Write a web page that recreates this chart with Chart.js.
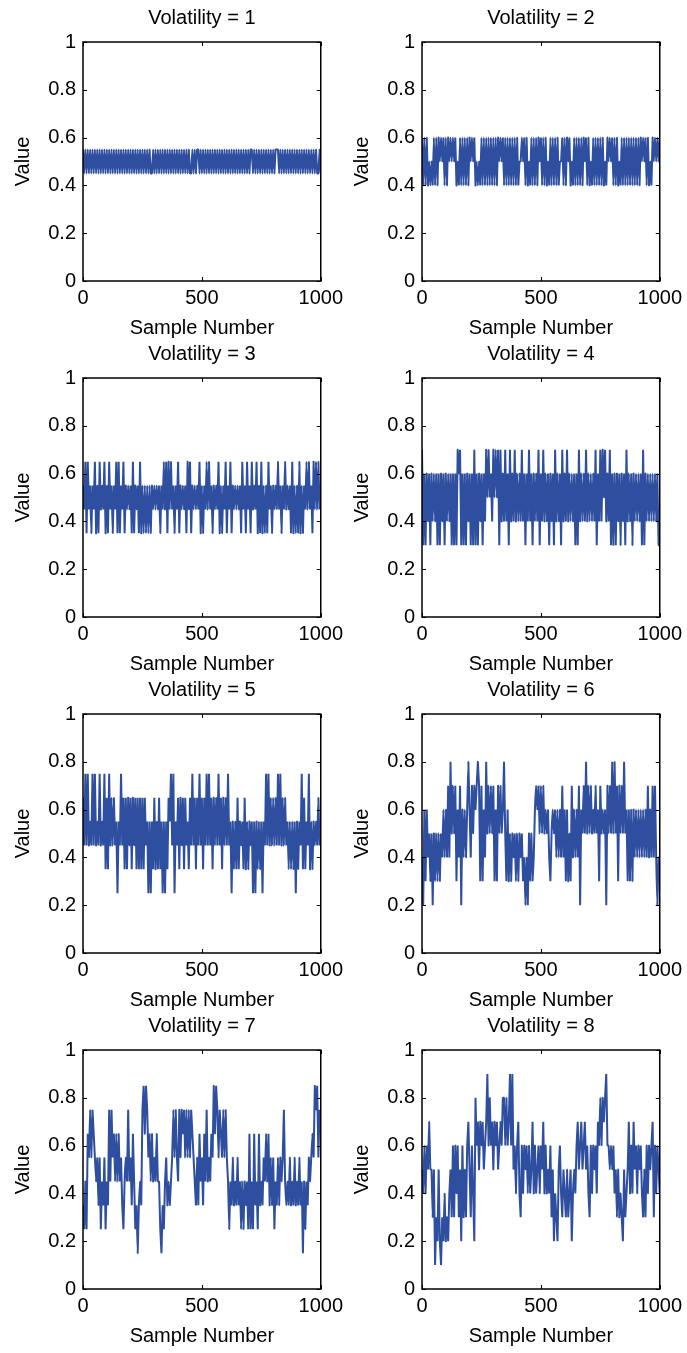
<!DOCTYPE html>
<html><head><meta charset="utf-8">
<script src="https://cdn.jsdelivr.net/npm/chart.js@4.4.1/dist/chart.umd.min.js"></script>
<style>
html,body{margin:0;padding:0;background:#fff;}
body{width:687px;height:1353px;position:relative;overflow:hidden;}
canvas{position:absolute;}
</style></head><body>
<script>
const volatilities = [1, 2, 3, 4, 5, 6, 7, 8];
const xTickValues = [0, 500, 1000];
const yTickValues = [0, 0.2, 0.4, 0.6, 0.8, 1];
const sampleCount = 1000;

const vol1 = [
.55,.45,.55,.45,.55,.45,.55,.45,.55,.45,
.55,.45,.55,.45,.55,.45,.55,.45,.55,.45,
.55,.45,.55,.45,.55,.45,.55,.45,.55,.45,
.55,.45,.55,.45,.55,.45,.55,.45,.55,.45,
.55,.45,.55,.45,.55,.45,.55,.45,.55,.45,
.55,.45,.55,.45,.55,.45,.55,.45,.45,.55,
.45,.55,.45,.55,.45,.55,.45,.55,.45,.55,
.45,.55,.45,.55,.45,.55,.45,.55,.45,.55,
.45,.55,.45,.55,.45,.55,.45,.55,.45,.55,
.45,.45,.55,.45,.55,.45,.55,.55,.45,.55,
.45,.55,.45,.55,.45,.55,.45,.55,.45,.55,
.45,.55,.45,.55,.45,.55,.45,.55,.45,.55,
.45,.55,.45,.55,.45,.55,.45,.55,.45,.55,
.45,.55,.45,.55,.45,.55,.45,.55,.45,.55,
.45,.55,.55,.45,.55,.45,.55,.45,.55,.45,
.55,.45,.55,.45,.55,.45,.55,.45,.55,.45,
.55,.45,.55,.55,.55,.45,.55,.45,.55,.45,
.55,.45,.55,.45,.55,.45,.55,.45,.55,.45,
.55,.45,.55,.45,.55,.45,.55,.45,.55,.45,
.55,.45,.55,.45,.55,.45,.55,.45,.45,.55,
.45];

const vol2 = [
.6,.4,.6,.4,.6,.4,.5,.4,.5,.4,
.6,.4,.6,.4,.6,.5,.6,.5,.6,.4,
.6,.4,.6,.5,.6,.5,.6,.5,.6,.4,
.5,.4,.6,.4,.6,.4,.6,.4,.6,.4,
.6,.5,.6,.5,.6,.4,.5,.4,.5,.4,
.6,.4,.6,.4,.6,.4,.6,.4,.6,.4,
.6,.4,.6,.4,.6,.5,.6,.5,.6,.4,
.6,.4,.6,.4,.6,.4,.6,.4,.6,.4,
.6,.4,.5,.5,.6,.5,.6,.4,.6,.4,
.5,.4,.6,.4,.6,.4,.6,.4,.6,.5,
.6,.4,.6,.4,.6,.4,.5,.4,.6,.4,
.6,.4,.6,.4,.6,.4,.5,.5,.6,.4,
.6,.4,.6,.5,.6,.4,.5,.4,.6,.4,
.6,.4,.6,.4,.6,.4,.6,.5,.6,.4,
.6,.4,.5,.4,.6,.4,.6,.4,.6,.4,
.6,.4,.6,.4,.5,.4,.6,.5,.6,.5,
.6,.4,.6,.4,.6,.4,.5,.4,.6,.4,
.6,.4,.6,.4,.6,.4,.6,.4,.6,.4,
.6,.4,.6,.4,.6,.5,.6,.5,.6,.4,
.6,.4,.5,.4,.6,.5,.6,.5,.6,.5,
.6];

const vol3 = [
.55,.45,.65,.35,.65,.45,.55,.35,.55,.45,
.65,.35,.55,.35,.65,.45,.55,.45,.65,.35,
.55,.35,.65,.45,.55,.35,.55,.45,.65,.35,
.65,.35,.55,.45,.65,.35,.55,.45,.55,.45,
.55,.35,.65,.35,.55,.45,.55,.35,.65,.35,
.55,.35,.55,.35,.55,.35,.55,.35,.55,.45,
.55,.45,.55,.45,.55,.35,.55,.45,.65,.45,
.65,.35,.65,.45,.65,.45,.55,.35,.55,.45,
.65,.35,.55,.45,.55,.45,.55,.35,.65,.45,
.65,.35,.55,.45,.55,.45,.55,.45,.65,.35,
.55,.35,.55,.45,.65,.45,.65,.45,.55,.35,
.55,.45,.55,.45,.65,.35,.55,.35,.55,.45,
.65,.35,.55,.45,.65,.35,.55,.45,.55,.45,
.55,.45,.55,.35,.65,.45,.55,.35,.65,.45,
.55,.35,.65,.45,.55,.45,.65,.35,.55,.35,
.65,.35,.55,.35,.55,.35,.65,.45,.55,.35,
.55,.45,.55,.45,.65,.45,.55,.35,.55,.45,
.65,.45,.55,.45,.55,.35,.65,.35,.55,.35,
.55,.35,.65,.35,.55,.35,.55,.45,.65,.45,
.65,.45,.55,.35,.65,.45,.65,.45,.65,.45,
.55];

const vol4 = [
.7,.3,.6,.3,.6,.4,.6,.3,.6,.4,
.6,.4,.6,.3,.6,.3,.6,.4,.6,.3,
.6,.4,.6,.4,.6,.3,.6,.3,.6,.3,
.7,.6,.7,.3,.6,.3,.6,.3,.6,.4,
.6,.3,.6,.3,.7,.3,.6,.3,.6,.4,
.6,.3,.6,.4,.7,.5,.7,.5,.6,.4,
.7,.5,.7,.5,.7,.3,.7,.4,.6,.4,
.7,.4,.6,.3,.7,.4,.6,.4,.7,.4,
.6,.4,.6,.4,.7,.4,.6,.3,.6,.4,
.7,.4,.6,.3,.6,.4,.6,.4,.7,.3,
.6,.4,.7,.4,.6,.4,.6,.3,.6,.4,
.6,.3,.7,.4,.6,.4,.6,.3,.7,.4,
.6,.4,.7,.4,.6,.4,.6,.4,.6,.3,
.6,.3,.7,.4,.6,.4,.6,.4,.7,.4,
.6,.4,.6,.4,.6,.4,.7,.3,.6,.4,
.7,.4,.7,.5,.7,.4,.6,.4,.7,.3,
.6,.3,.6,.3,.6,.4,.6,.3,.6,.4,
.6,.3,.7,.4,.6,.4,.6,.3,.6,.4,
.6,.4,.6,.4,.6,.3,.7,.3,.6,.4,
.6,.4,.6,.4,.6,.4,.6,.4,.6,.3,
.3];

const vol5 = [
.65,.45,.75,.45,.75,.45,.55,.45,.75,.45,
.75,.45,.55,.45,.75,.45,.55,.45,.75,.35,
.65,.35,.75,.45,.65,.45,.65,.45,.55,.25,
.55,.45,.75,.45,.65,.35,.65,.35,.65,.45,
.65,.35,.65,.45,.65,.35,.65,.35,.65,.35,
.65,.35,.65,.45,.55,.25,.55,.25,.55,.35,
.65,.35,.55,.35,.65,.35,.55,.25,.55,.25,
.55,.35,.65,.55,.75,.45,.75,.25,.55,.45,
.65,.35,.65,.45,.65,.35,.65,.45,.55,.35,
.65,.45,.75,.45,.65,.35,.65,.45,.75,.45,
.65,.35,.65,.45,.75,.45,.75,.45,.65,.35,
.65,.45,.65,.45,.75,.45,.65,.35,.65,.45,
.65,.45,.75,.45,.55,.25,.55,.35,.55,.35,
.65,.35,.55,.45,.55,.35,.65,.35,.55,.35,
.55,.45,.55,.25,.55,.25,.55,.35,.55,.35,
.55,.25,.55,.45,.75,.45,.75,.45,.65,.45,
.65,.45,.65,.45,.75,.45,.75,.45,.65,.45,
.65,.45,.55,.35,.55,.35,.55,.35,.55,.25,
.55,.35,.55,.45,.75,.35,.65,.35,.55,.45,
.75,.35,.55,.35,.55,.45,.55,.45,.65,.45,
.55];

const vol6 = [
.4,.2,.6,.3,.6,.4,.5,.3,.5,.2,
.5,.3,.5,.3,.5,.3,.5,.4,.6,.4,
.6,.4,.7,.4,.8,.5,.7,.5,.7,.3,
.6,.4,.7,.2,.6,.4,.6,.4,.6,.8,
.6,.4,.7,.5,.7,.6,.7,.8,.7,.3,
.7,.3,.6,.4,.8,.5,.7,.5,.7,.5,
.7,.3,.6,.3,.7,.5,.7,.5,.6,.8,
.5,.3,.6,.3,.5,.3,.5,.4,.5,.3,
.5,.3,.5,.4,.5,.3,.4,.2,.4,.2,
.5,.3,.5,.3,.4,.6,.7,.6,.7,.5,
.7,.5,.7,.5,.6,.5,.6,.4,.3,.5,
.6,.5,.6,.4,.6,.4,.6,.4,.7,.4,
.6,.3,.6,.3,.5,.3,.7,.4,.6,.4,
.6,.4,.7,.2,.6,.5,.7,.5,.8,.5,
.7,.5,.7,.5,.6,.5,.7,.5,.6,.3,
.7,.5,.6,.5,.6,.2,.7,.5,.7,.5,
.8,.5,.8,.5,.7,.3,.7,.5,.7,.5,
.8,.5,.6,.3,.6,.3,.6,.3,.6,.4,
.6,.4,.6,.4,.6,.4,.6,.4,.6,.4,
.7,.4,.6,.4,.7,.4,.7,.4,.2,.4,
.4];

const vol7 = [
.35,.25,.45,.25,.65,.55,.75,.55,.75,.65,
.55,.45,.55,.35,.55,.25,.45,.35,.55,.25,
.45,.35,.75,.45,.75,.55,.65,.45,.65,.45,
.65,.45,.55,.35,.25,.45,.55,.45,.75,.45,
.55,.35,.65,.45,.25,.35,.15,.35,.45,.35,
.75,.85,.65,.85,.75,.55,.65,.45,.65,.45,
.55,.45,.65,.45,.45,.25,.15,.35,.25,.45,
.55,.35,.45,.35,.45,.55,.75,.55,.75,.55,
.45,.75,.55,.75,.65,.75,.55,.75,.55,.75,
.55,.75,.65,.55,.45,.35,.55,.35,.65,.45,
.55,.35,.65,.45,.75,.45,.55,.45,.65,.55,
.85,.65,.85,.75,.55,.75,.65,.55,.75,.55,
.75,.55,.45,.25,.45,.35,.55,.35,.45,.35,
.55,.35,.45,.25,.45,.25,.45,.35,.45,.25,
.65,.25,.45,.25,.65,.35,.45,.25,.65,.35,
.45,.35,.55,.45,.65,.45,.65,.35,.55,.35,
.55,.25,.45,.35,.55,.35,.55,.45,.55,.75,
.45,.35,.45,.35,.55,.35,.45,.35,.55,.35,
.45,.35,.55,.35,.45,.15,.45,.25,.45,.35,
.55,.45,.55,.65,.55,.85,.75,.85,.55,.75,
.65];

const vol8 = [
.5,.4,.6,.4,.6,.5,.7,.5,.5,.3,
.5,.1,.3,.2,.5,.2,.1,.3,.2,.4,
.2,.3,.2,.4,.5,.3,.6,.3,.6,.4,
.6,.3,.5,.2,.6,.3,.5,.3,.6,.7,
.5,.3,.6,.4,.2,.8,.6,.7,.5,.7,
.6,.7,.5,.6,.7,.9,.6,.8,.6,.7,
.5,.7,.6,.7,.5,.6,.7,.6,.8,.8,
.6,.8,.6,.7,.9,.6,.9,.5,.6,.4,
.6,.7,.4,.3,.6,.4,.6,.5,.6,.4,
.6,.4,.5,.7,.4,.6,.4,.5,.6,.4,
.6,.5,.7,.4,.6,.4,.5,.4,.6,.3,
.5,.2,.4,.3,.2,.5,.6,.4,.3,.5,
.4,.3,.5,.3,.4,.5,.2,.4,.5,.4,
.6,.7,.5,.6,.7,.5,.6,.7,.5,.6,
.4,.3,.6,.4,.6,.5,.6,.4,.7,.6,
.8,.6,.8,.7,.8,.9,.6,.6,.5,.6,
.5,.6,.4,.5,.3,.5,.3,.4,.3,.2,
.5,.3,.4,.5,.7,.4,.6,.4,.7,.5,
.6,.4,.6,.5,.6,.4,.3,.5,.3,.6,
.4,.6,.5,.6,.7,.3,.6,.4,.6,.5,
.4];

const seriesList = [vol1, vol2, vol3, vol4, vol5, vol6, vol7, vol8];

const FONT = {family: '"Liberation Sans", Arial, Helvetica, sans-serif', size: 20, weight: 'normal'};
const LINE_COLOR = '#2e4ea0';
const PLOT_LEFT = [83, 422];
const PLOT_TOP = [42, 378, 714, 1050];
const CANVAS_W = 348, CANVAS_H = 345;

const boxPlugin = {
  id: 'boxTicks',
  afterDatasetsDraw(chart) {
    const {ctx, chartArea: a, scales: {x, y}} = chart;
    ctx.save();
    ctx.strokeStyle = '#000';
    ctx.lineWidth = 1.5;
    ctx.strokeRect(a.left, a.top, a.right - a.left, a.bottom - a.top);
    ctx.beginPath();
    const tl = 4;
    xTickValues.forEach(v => {
      const px = Math.round(x.getPixelForValue(v)) + 0.5;
      ctx.moveTo(px, a.bottom); ctx.lineTo(px, a.bottom - tl);
      ctx.moveTo(px, a.top); ctx.lineTo(px, a.top + tl);
    });
    yTickValues.forEach(v => {
      const py = Math.round(y.getPixelForValue(v)) + 0.5;
      ctx.moveTo(a.left, py); ctx.lineTo(a.left + tl, py);
      ctx.moveTo(a.right, py); ctx.lineTo(a.right - tl, py);
    });
    ctx.lineWidth = 1;
    ctx.stroke();
    ctx.restore();
  }
};

Chart.defaults.font.family = FONT.family;
Chart.defaults.color = '#000';

volatilities.forEach((vol, k) => {
  const col = k % 2, row = Math.floor(k / 2);
  const cv = document.createElement('canvas');
  cv.width = CANVAS_W; cv.height = CANVAS_H;
  cv.style.width = CANVAS_W + 'px'; cv.style.height = CANVAS_H + 'px';
  cv.style.left = (PLOT_LEFT[col] - 83) + 'px';
  cv.style.top = (PLOT_TOP[row] - 42) + 'px';
  document.body.appendChild(cv);
  const vals = seriesList[k];
  const pts = vals.map((v, i) => ({x: i * sampleCount / (vals.length - 1), y: v}));
  new Chart(cv, {
    type: 'line',
    data: {datasets: [{data: pts, borderColor: LINE_COLOR, borderWidth: 2, pointRadius: 0,
      tension: 0.0001, borderJoinStyle: 'bevel', fill: false}]},
    options: {
      responsive: false, animation: false, devicePixelRatio: 1,
      events: [],
      layout: {padding: {left: 0, top: 0, right: 25, bottom: 4}},
      plugins: {
        legend: {display: false},
        tooltip: {enabled: false},
        title: {display: true, text: 'Volatility = ' + vol, color: '#000', font: FONT,
          padding: {top: 6, bottom: 12}, fullSize: false}
      },
      scales: {
        x: {
          type: 'linear', min: 0, max: sampleCount,
          grid: {display: false, drawTicks: false}, border: {display: false},
          afterBuildTicks: s => { s.ticks = xTickValues.map(v => ({value: v})); },
          afterFit: s => { s.height = 60; },
          ticks: {color: '#000', font: FONT, padding: 5, maxRotation: 0, autoSkip: false,
            callback: v => String(v)},
          title: {display: true, text: 'Sample Number', color: '#000', font: FONT,
            padding: {top: 0, bottom: 1}}
        },
        y: {
          type: 'linear', min: 0, max: 1,
          grid: {display: false, drawTicks: false}, border: {display: false},
          afterBuildTicks: s => { s.ticks = yTickValues.map(v => ({value: v})); },
          afterFit: s => { s.width = 83; },
          ticks: {color: '#000', font: FONT, padding: 7, autoSkip: false,
            callback: v => String(+v.toFixed(2))},
          title: {display: true, text: 'Value', color: '#000', font: FONT,
            padding: {top: 11, bottom: 0}}
        }
      }
    },
    plugins: [boxPlugin]
  });
});
</script>
</body></html>
